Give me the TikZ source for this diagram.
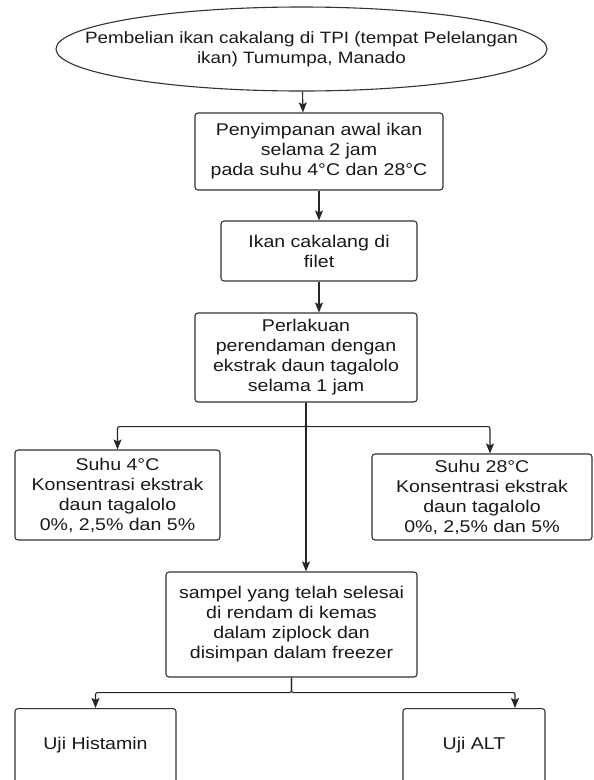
\documentclass[tikz,border=0pt]{standalone}
\usepackage{fontspec}
\setmainfont{Liberation Sans}[FakeStretch=1.15]
\usetikzlibrary{arrows.meta,shapes.geometric}

\begin{document}
\begin{tikzpicture}[->,>={Stealth[length=10pt,width=8pt,inset=2pt]},x=1pt,y=-1pt,
                    line width=1.1pt,draw=black!85,rounded corners=2pt,
                    font=\fontsize{17}{20}\selectfont]
  \tikzstyle{every node}=[draw=black!80,text=black!90,align=center,inner sep=0pt]
  \tikzstyle{box}=[rectangle,rounded corners=3pt]
  \tikzstyle{oval}=[ellipse,inner xsep=-80pt,inner ysep=-20pt,
                    font=\fontsize{16.4}{20}\selectfont]
  \tikzstyle{uji}=[box,anchor=north,text height=41pt,text depth=80pt]

  \useasboundingbox (0,0) rectangle (594,780);

  \node[oval,minimum width=491pt,minimum height=84pt] (A) at (301.5,49)
        {Pembelian ikan cakalang di TPI (tempat Pelelangan\\ ikan) Tumumpa, Manado};
  \node[box,minimum width=248pt,minimum height=77pt] (B) at (319,151.5)
        {Penyimpanan awal ikan\\ selama 2 jam\\ pada suhu 4°C dan 28°C};
  \node[box,minimum width=196pt,minimum height=60pt] (C) at (319,251)
        {Ikan cakalang di\\ filet};
  \node[box,minimum width=222pt,minimum height=89pt] (D) at (306,357.5)
        {Perlakuan\\ perendaman dengan\\ ekstrak daun tagalolo\\ selama 1 jam};

  \node[box,minimum width=205pt,minimum height=90pt] (E) at (117.5,495)
        {Suhu 4°C\\ Konsentrasi ekstrak\\ daun tagalolo\\ 0\%, 2,5\% dan 5\%};
  \node[box,minimum width=220pt,minimum height=86pt] (F) at (482,497)
        {Suhu 28°C\\ Konsentrasi ekstrak\\ daun tagalolo\\ 0\%, 2,5\% dan 5\%};

  \node[box,minimum width=251pt,minimum height=105pt] (G) at (291.5,624.5)
        {sampel yang telah selesai\\ di rendam di kemas\\ dalam ziplock dan\\ disimpan dalam freezer};

  \node[uji,minimum width=161pt] (H) at (95.5,708) {Uji Histamin};
  \node[uji,minimum width=142pt] (I) at (474,708) {Uji ALT};

  % alur utama
  \draw (A) -- ([xshift=1.5pt]A.south |- B.north);
  \draw (B) -- (C);
  \draw (C) -- (C.south |- D.north);
  \draw (D.south) -- (D.south |- G.north);

  % cabang suhu
  \draw (D.south) -- ++(0,24) -| (E.north);
  \draw (D.south) -- ++(0,24) -| ([xshift=8pt]F.north);

  % cabang uji
  \draw (G.south) -- ++(0,15) -| (H.north);
  \draw (G.south) -- ++(0,15) -| ([xshift=41pt]I.north);
\end{tikzpicture}
\end{document}
